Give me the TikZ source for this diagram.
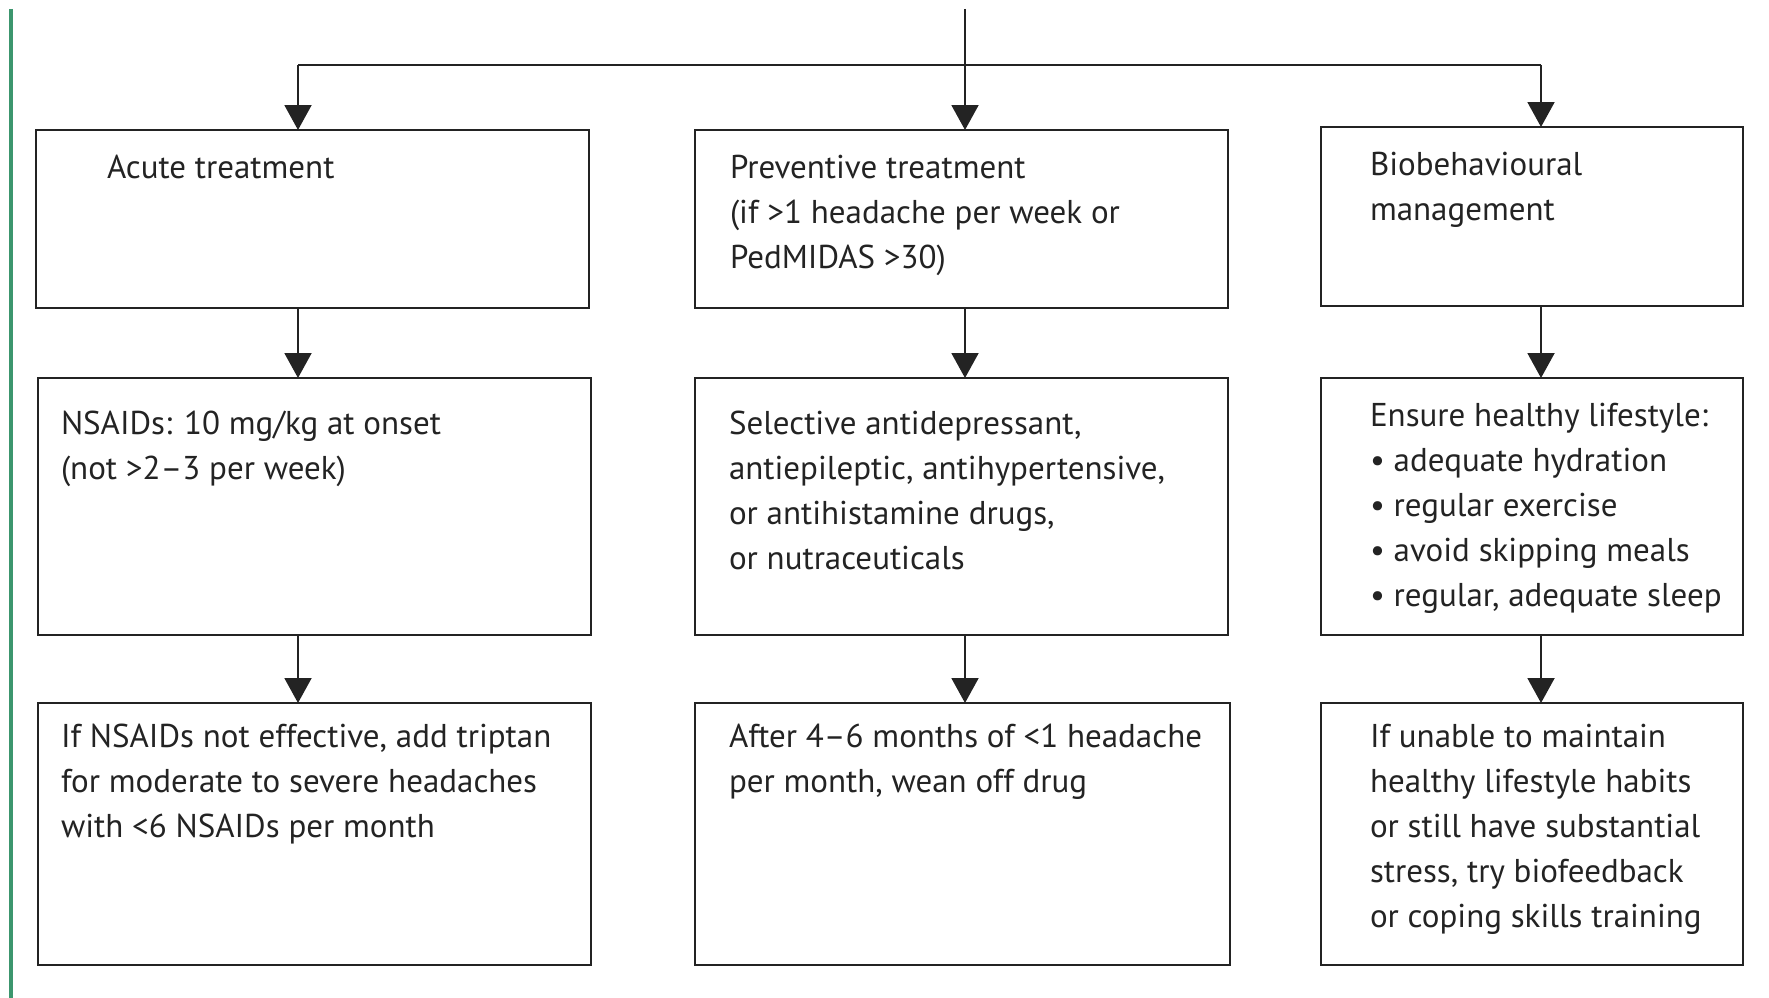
\documentclass[tikz,border=0pt]{standalone}
\usepackage{fontspec}
\setmainfont{PT Sans}
\usetikzlibrary{arrows.meta}
\definecolor{lancetgreen}{RGB}{60,150,110}
\definecolor{ink}{RGB}{35,35,35}
\begin{document}
\begin{tikzpicture}[x=1pt,y=-1pt,
  box/.style={draw=ink, line width=2.4pt, rectangle, inner sep=0pt, outer sep=0pt, anchor=north west},
  txt/.style={anchor=base west, inner sep=0pt, outer sep=0pt, align=left, text=ink, font=\fontsize{33}{45}\selectfont},
  conn/.style={draw=ink, line width=2pt},
  arr/.style={conn, -{Triangle[length=25pt,width=27pt]}}]
\useasboundingbox (0,0) rectangle (1769,998);
% green margin rule
\draw[lancetgreen, line width=3.5pt] (11,9) -- (11,998);
% boxes
\node[box, minimum width=553pt, minimum height=178pt] (b11) at (36,130) {};
\node[box, minimum width=533pt, minimum height=178pt] (b12) at (695,130) {};
\node[box, minimum width=422pt, minimum height=179pt] (b13) at (1321,127) {};
\node[box, minimum width=553pt, minimum height=257pt] (b21) at (38,378) {};
\node[box, minimum width=533pt, minimum height=257pt] (b22) at (695,378) {};
\node[box, minimum width=422pt, minimum height=257pt] (b23) at (1321,378) {};
\node[box, minimum width=553pt, minimum height=262pt] (b31) at (38,703) {};
\node[box, minimum width=535pt, minimum height=262pt] (b32) at (695,703) {};
\node[box, minimum width=422pt, minimum height=262pt] (b33) at (1321,703) {};
% texts (anchored at the baseline of the last line; line pitch 45)
\node[txt] (t11) at (107,178) {Acute treatment};
\node[txt] (t12) at (730,268) {Preventive treatment\\(if >1 headache per week or\\PedMIDAS >30)};
\node[txt] (t13) at (1370,220) {Biobehavioural\\management};
\node[txt] (t21) at (61,479) {NSAIDs: 10 mg/kg at onset\\(not >2–3 per week)};
\node[txt] (t22) at (729,569) {Selective antidepressant,\\antiepileptic, antihypertensive,\\or antihistamine drugs,\\or nutraceuticals};
\node[txt] (t23) at (1370,606) {Ensure healthy lifestyle:\\• adequate hydration\\• regular exercise\\• avoid skipping meals\\• regular, adequate sleep};
\node[txt] (t31) at (61,837) {If NSAIDs not effective, add triptan\\for moderate to severe headaches\\with <6 NSAIDs per month};
\node[txt] (t32) at (729,792) {After 4–6 months of <1 headache\\per month, wean off drug};
\node[txt] (t33) at (1370,927) {If unable to maintain\\healthy lifestyle habits\\or still have substantial\\stress, try biofeedback\\or coping skills training};
% connectors
\coordinate (top) at (965,9);
\coordinate (c1) at (298,65);
\coordinate (c3) at (1541,65);
\draw[conn] (c1) -- (c3);
\draw[arr] (c1) -- (c1 |- b11.north);
\draw[arr] (top) -- (top |- b12.north);
\draw[arr] (c3) -- (c3 |- b13.north);
\draw[arr] (b11.south -| c1) -- (b21.north -| c1);
\draw[arr] (b12.south -| top) -- (b22.north -| top);
\draw[arr] (b13.south -| c3) -- (b23.north -| c3);
\draw[arr] (b21.south -| c1) -- (b31.north -| c1);
\draw[arr] (b22.south -| top) -- (b32.north -| top);
\draw[arr] (b23.south -| c3) -- (b33.north -| c3);
\end{tikzpicture}
\end{document}
